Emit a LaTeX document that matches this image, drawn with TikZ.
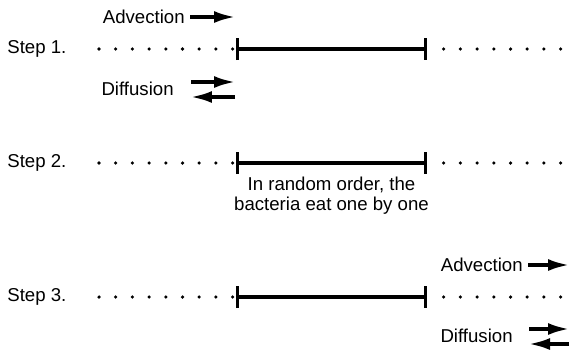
\documentclass[tikz,border=0pt]{standalone}
\usepackage{fontspec}
\setmainfont{Liberation Sans}
\usetikzlibrary{arrows.meta,positioning,calc}

\begin{document}
\begin{tikzpicture}[
    x=0.02cm, y=-0.02cm,
    txt/.style={inner sep=0pt, font=\fontsize{10.6}{11.2}\selectfont},
    seg/.style={line width=1.8pt,
                {Bar[width=0.44cm,line width=1.8pt]}-{Bar[width=0.44cm,line width=1.8pt]}},
    flow/.style={-{Latex[length=0.42cm,width=0.24cm]}, line width=1.8pt}
]
\useasboundingbox (0,0) rectangle (571,352);

% the three steps, with dotted lines on both sides
\foreach \n/\y in {1/49, 2/163, 3/297} {
    \node[txt, anchor=west] (step\n) at (7,\y) {Step \n.};
    \coordinate (l\n) at (236,\y);
    \coordinate (r\n) at (427,\y);
    \draw[seg] (l\n) -- (r\n);
    \foreach \i in {0,...,8}
        \fill (99+16.7*\i,\y) circle (1pt);
    \foreach \i in {1,...,8}
        \fill (427+16.7*\i,\y) circle (1pt);
}

% step 1: flows on the left
\node[txt, anchor=east] (adv1) at (185,17) {Advection};
\coordinate (adv1a) at (190,17);
\coordinate (adv1b) at (235,17);
\draw[flow] (adv1a) -- (adv1b);

\node[txt, anchor=east] (dif1) at (174,89) {Diffusion};
\coordinate (dif1a) at (191,82);
\coordinate (dif1b) at (235,82);
\coordinate (dif1c) at (235,97);
\coordinate (dif1d) at (191,97);
\draw[flow] (dif1a) -- (dif1b);
\draw[flow] (dif1c) -- (dif1d);

% step 2: eating
\node[txt, align=center, below=0.28cm of $(l2)!0.5!(r2)$] (eat) {In random order, the\\bacteria eat one by one};

% step 3: flows on the right
\node[txt, anchor=east] (adv3) at (523,265) {Advection};
\coordinate (adv3a) at (528,265);
\coordinate (adv3b) at (569,265);
\draw[flow] (adv3a) -- (adv3b);

\node[txt, anchor=east] (dif3) at (513,336) {Diffusion};
\coordinate (dif3a) at (529,329);
\coordinate (dif3b) at (569,329);
\coordinate (dif3c) at (569,344);
\coordinate (dif3d) at (529,344);
\draw[flow] (dif3a) -- (dif3b);
\draw[flow] (dif3c) -- (dif3d);
\end{tikzpicture}
\end{document}
